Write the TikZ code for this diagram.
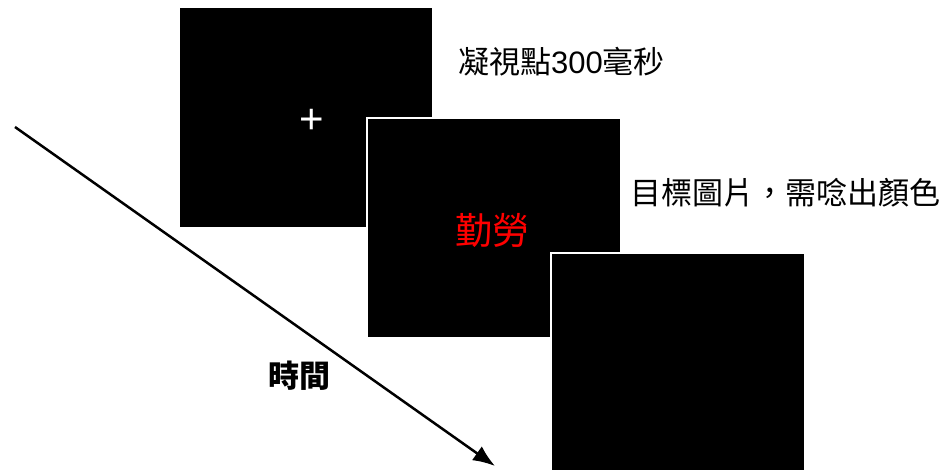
\documentclass[tikz,border=0pt]{standalone}
\usepackage{fontspec}
\setmainfont{Liberation Sans}
\newfontfamily\cjk{Noto Sans CJK TC}
\usetikzlibrary{arrows.meta,positioning}
\tikzstyle{screen} = [rectangle, fill=black, draw=white, line width=2pt, minimum width=254pt,
minimum height=220pt, inner sep=0pt, outer sep=0pt, anchor=north west]
\tikzstyle{caption} = [text=black, font=\fontsize{31}{31}\selectfont\cjk, inner sep=0pt, anchor=west]
\tikzstyle{tedge}  = [draw, line width=2.5pt, >={Latex[length=22pt,width=17pt]}, ->]

\begin{document}
\begin{tikzpicture}[x=1pt, y=-1pt]
\useasboundingbox (0,0) rectangle (950,470);

% fixation screen =============================
\node[screen, draw=none, minimum width=252pt, minimum height=219pt] (fix) at (180,8) {};
\node[text=white, inner sep=0pt, font=\fontsize{42}{42}\selectfont] (cross) at (311.5,121) {+};
\node[caption] (fixlabel) at (458,62) {凝視點{\rmfamily 300}毫秒};

% target screen
\node[screen] (target) at (367,118) {};
\node[text=red, inner sep=0pt, font=\fontsize{37}{37}\selectfont\cjk] (word) at (492,230) {勤勞};
\node[caption] (targetlabel) at (630,193) {目標圖片，需唸出顏色};

% blank screen
\node[screen, minimum height=222pt] (blank) at (551,253) {};

% time axis
\coordinate (tstart) at (15,127);
\coordinate (tend) at (495,466);
\path[tedge] (tstart) -- (tend);
\node[caption, anchor=center, font=\fontsize{31}{31}\selectfont\cjk\bfseries] (timelabel) at (299,376) {時間};

\end{tikzpicture}
\end{document}
